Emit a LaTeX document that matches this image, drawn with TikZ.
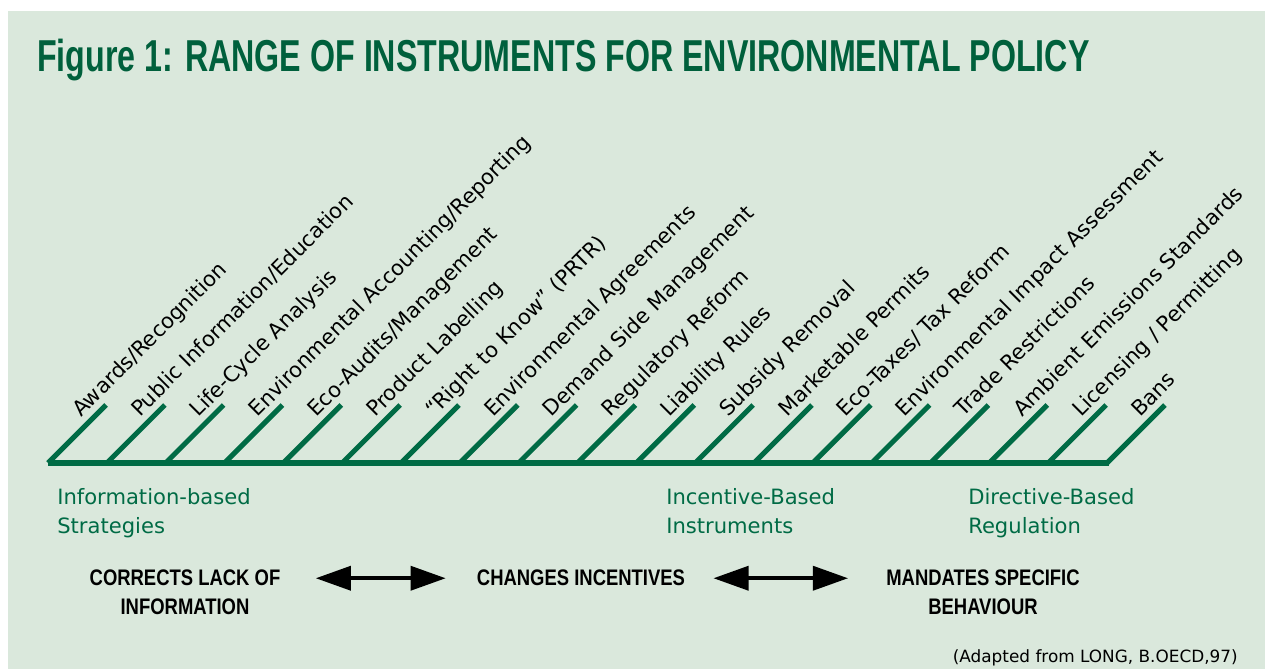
\documentclass[tikz,border=0pt]{standalone}
\usepackage{fontspec}
\setmainfont{DejaVu Sans}
\newfontfamily\titlefont[FakeStretch=0.72]{Liberation Sans}
\newfontfamily\capsfont[FakeStretch=0.82]{Liberation Sans}
\usetikzlibrary{arrows.meta}
\definecolor{panel}{HTML}{DAE8DC}
\definecolor{darkgreen}{HTML}{00603C}
\definecolor{linegreen}{HTML}{006B45}
\tikzset{
  tick/.style={draw=linegreen, line width=3.6pt},
  instr/.style={rotate=45, anchor=base west, inner sep=0pt, font=\fontsize{15}{18}\selectfont},
  group/.style={text=linegreen, align=left, anchor=north west, inner sep=0pt, font=\fontsize{15}{20.6}\selectfont},
  effect/.style={align=center, anchor=north, inner sep=0pt, font=\capsfont\bfseries\fontsize{16}{20}\selectfont},
  dbl/.style={{Triangle[length=25pt,width=17pt]}-{Triangle[length=25pt,width=17pt]}, line width=2.8pt}
}
\begin{document}
\begin{tikzpicture}[x=0.025cm, y=-0.025cm]
    \useasboundingbox (0,0) rectangle (1265,669);
    \fill[panel] (8,11) rectangle (1265,669);
    \node[anchor=base west, inner sep=0pt, text=darkgreen, font=\titlefont\bfseries\fontsize{31.8}{36}\selectfont] (title) at (37,72) {Figure 1: RANGE OF INSTRUMENTS FOR ENVIRONMENTAL POLICY};
    \foreach \lab [count=\i from 0] in {Awards/Recognition, Public Information/Education, Life-Cycle Analysis, Environmental Accounting/Reporting, Eco-Audits/Management, Product Labelling, “Right to Know” (PRTR), Environmental Agreements, Demand Side Management, Regulatory Reform, Liability Rules, Subsidy Removal, Marketable Permits, Eco-Taxes/ Tax Reform, Environmental Impact Assessment, Trade Restrictions, Ambient Emissions Standards, Licensing / Permitting, Bans} {
        \coordinate (b\i) at (48+58.83*\i,463);
        \coordinate (t\i) at (106+58.83*\i,405);
        \path[tick] (b\i) edge (t\i);
        \node[instr] (lab\i) at ([shift={(-25,13)}]t\i) {\lab};
    }
    \path[tick] (b0) edge ([xshift=1.8pt]b18);
    \node[group] (info) at (57,488) {Information-based\\Strategies};
    \node[group] (incent) at (666,488) {Incentive-Based\\Instruments};
    \node[group] (direct) at (968,488) {Directive-Based\\Regulation};
    \node[effect] (corr) at (185,570) {CORRECTS LACK OF\\INFORMATION};
    \node[effect] (chg) at (581,570) {CHANGES INCENTIVES};
    \node[effect] (mand) at (983,570) {MANDATES SPECIFIC\\BEHAVIOUR};
    \draw[dbl, shorten <=25pt, shorten >=22pt] (corr.east |- chg) -- (chg);
    \draw[dbl, shorten <=20pt, shorten >=27pt] (chg) -- (mand.west |- chg);
    \node[anchor=base east, inner sep=0pt, font=\fontsize{12}{14}\selectfont] (src) at (1238,662) {(Adapted from LONG, B.OECD,97)};
\end{tikzpicture}
\end{document}
